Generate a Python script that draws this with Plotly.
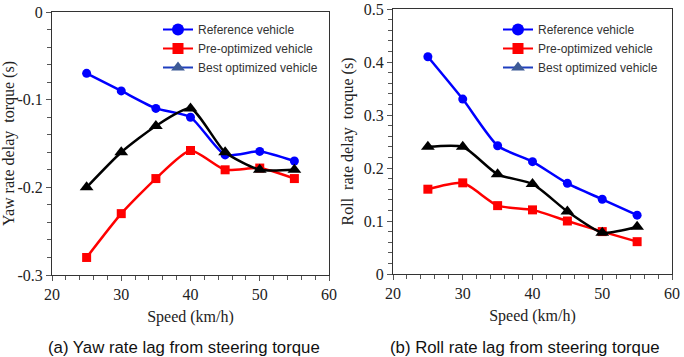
import plotly.graph_objects as go

speed = [25, 30, 35, 40, 45, 50, 55]

# (a) yaw rate lag
yaw_reference = [-0.07, -0.09, -0.11, -0.12, -0.163, -0.159, -0.17]
yaw_pre = [-0.28, -0.23, -0.19, -0.158, -0.18, -0.178, -0.19]
yaw_best = [-0.20, -0.16, -0.13, -0.11, -0.16, -0.18, -0.18]

# (b) roll rate lag
roll_reference = [0.41, 0.33, 0.242, 0.212, 0.171, 0.141, 0.111]
roll_pre = [0.16, 0.172, 0.129, 0.121, 0.10, 0.08, 0.061]
roll_best = [0.24, 0.24, 0.188, 0.17, 0.118, 0.078, 0.089]

names = ["Reference vehicle", "Pre-optimized vehicle", "Best optimized vehicle"]

W, H = 684, 357


def px(x):
    return x / W


def py(y):
    return 1 - y / H


fig = go.Figure()

styles = [
    dict(color="#0000ff", symbol="circle", size=9),
    dict(color="#ff0000", symbol="square", size=9),
    dict(color="#000000", symbol="triangle-up", size=12),
]
legend_styles = [
    dict(line="#0000ff", marker="#0000ff", symbol="circle", size=12),
    dict(line="#ff0000", marker="#ff0000", symbol="square", size=11),
    dict(line="#1f3fbf", marker="#3d5a96", symbol="triangle-up", size=12),
]

for ax, series, leg in [
    ("", [yaw_reference, yaw_pre, yaw_best], "legend"),
    ("2", [roll_reference, roll_pre, roll_best], "legend2"),
]:
    for s, ys in zip(styles, series):
        fig.add_trace(go.Scatter(
            x=speed, y=ys, mode="lines+markers", xaxis="x" + ax, yaxis="y" + ax,
            line=dict(color=s["color"], width=2.5, shape="spline", smoothing=0.6),
            marker=dict(color=s["color"], symbol=s["symbol"], size=s["size"]),
            showlegend=False,
        ))
    for nm, ls in zip(names, legend_styles):
        fig.add_trace(go.Scatter(
            x=[None], y=[None], mode="lines+markers", xaxis="x" + ax, yaxis="y" + ax,
            name=nm, legend=leg,
            line=dict(color=ls["line"], width=2),
            marker=dict(color=ls["marker"], symbol=ls["symbol"], size=ls["size"]),
        ))

serif = "Liberation Serif"
title_font = dict(family=serif, size=16, color="#222222")
axis_common = dict(
    showline=True, linecolor="#333333", linewidth=1, mirror=True,
    showgrid=False, zeroline=False, ticks="outside", ticklen=5, automargin=False,
    tickcolor="#555555", tickfont=dict(family=serif, size=16, color="#222222"),
)
minor_x = dict(dtick=2, ticks="outside", ticklen=4, tickcolor="#555555")
minor_y = dict(dtick=0.02, ticks="outside", ticklen=4, tickcolor="#555555")
legend_common = dict(xanchor="left", yanchor="top", bgcolor="rgba(0,0,0,0)",
                     tracegroupgap=0, itemwidth=30,
                     font=dict(family="Liberation Sans", size=12, color="#333333"))
caption_font = dict(family="Liberation Sans", size=16.8, color="#111111")

fig.update_layout(
    width=W, height=H,
    margin=dict(l=0, r=0, t=0, b=0, autoexpand=False),
    paper_bgcolor="white", plot_bgcolor="white",
    xaxis=dict(domain=[px(52), px(329)], range=[20, 60], dtick=10, minor=minor_x,
               title=dict(text="Speed (km/h)", font=title_font, standoff=8),
               anchor="y", **axis_common),
    yaxis=dict(domain=[py(275), py(12)], range=[-0.3, 0],
               tickvals=[-0.3, -0.2, -0.1, 0], ticktext=["-0.3", "-0.2", "-0.1", "0"],
               minor=minor_y,
               title=dict(text="Yaw rate delay  torque (s)", font=title_font, standoff=6),
               anchor="x", **axis_common),
    xaxis2=dict(domain=[px(393), px(672)], range=[20, 60], dtick=10, minor=minor_x,
                title=dict(text="Speed (km/h)", font=title_font, standoff=8),
                anchor="y2", **axis_common),
    yaxis2=dict(domain=[py(274), py(9)], range=[0, 0.5],
                tickvals=[0, 0.1, 0.2, 0.3, 0.4, 0.5], ticktext=["0", "0.1", "0.2", "0.3", "0.4", "0.5"],
                minor=minor_y,
                title=dict(text="Roll  rate delay  torque (s)", font=title_font, standoff=6),
                anchor="x2", **axis_common),
    legend=dict(x=px(158), y=py(15), **legend_common),
    legend2=dict(x=px(498), y=py(15), **legend_common),
    annotations=[
        dict(text="(a) Yaw rate lag from steering torque", x=px(184), y=py(347),
             xref="paper", yref="paper", showarrow=False, xanchor="center", yanchor="middle",
             font=caption_font),
        dict(text="(b) Roll rate lag from steering torque", x=px(525), y=py(347),
             xref="paper", yref="paper", showarrow=False, xanchor="center", yanchor="middle",
             font=caption_font),
    ],
)

# drop the default page margin so the figure sits at the window's top-left corner
fig.write_html("out.html", config={"displayModeBar": False},
               post_script="document.body.style.margin='0';document.body.style.overflow='hidden';")
